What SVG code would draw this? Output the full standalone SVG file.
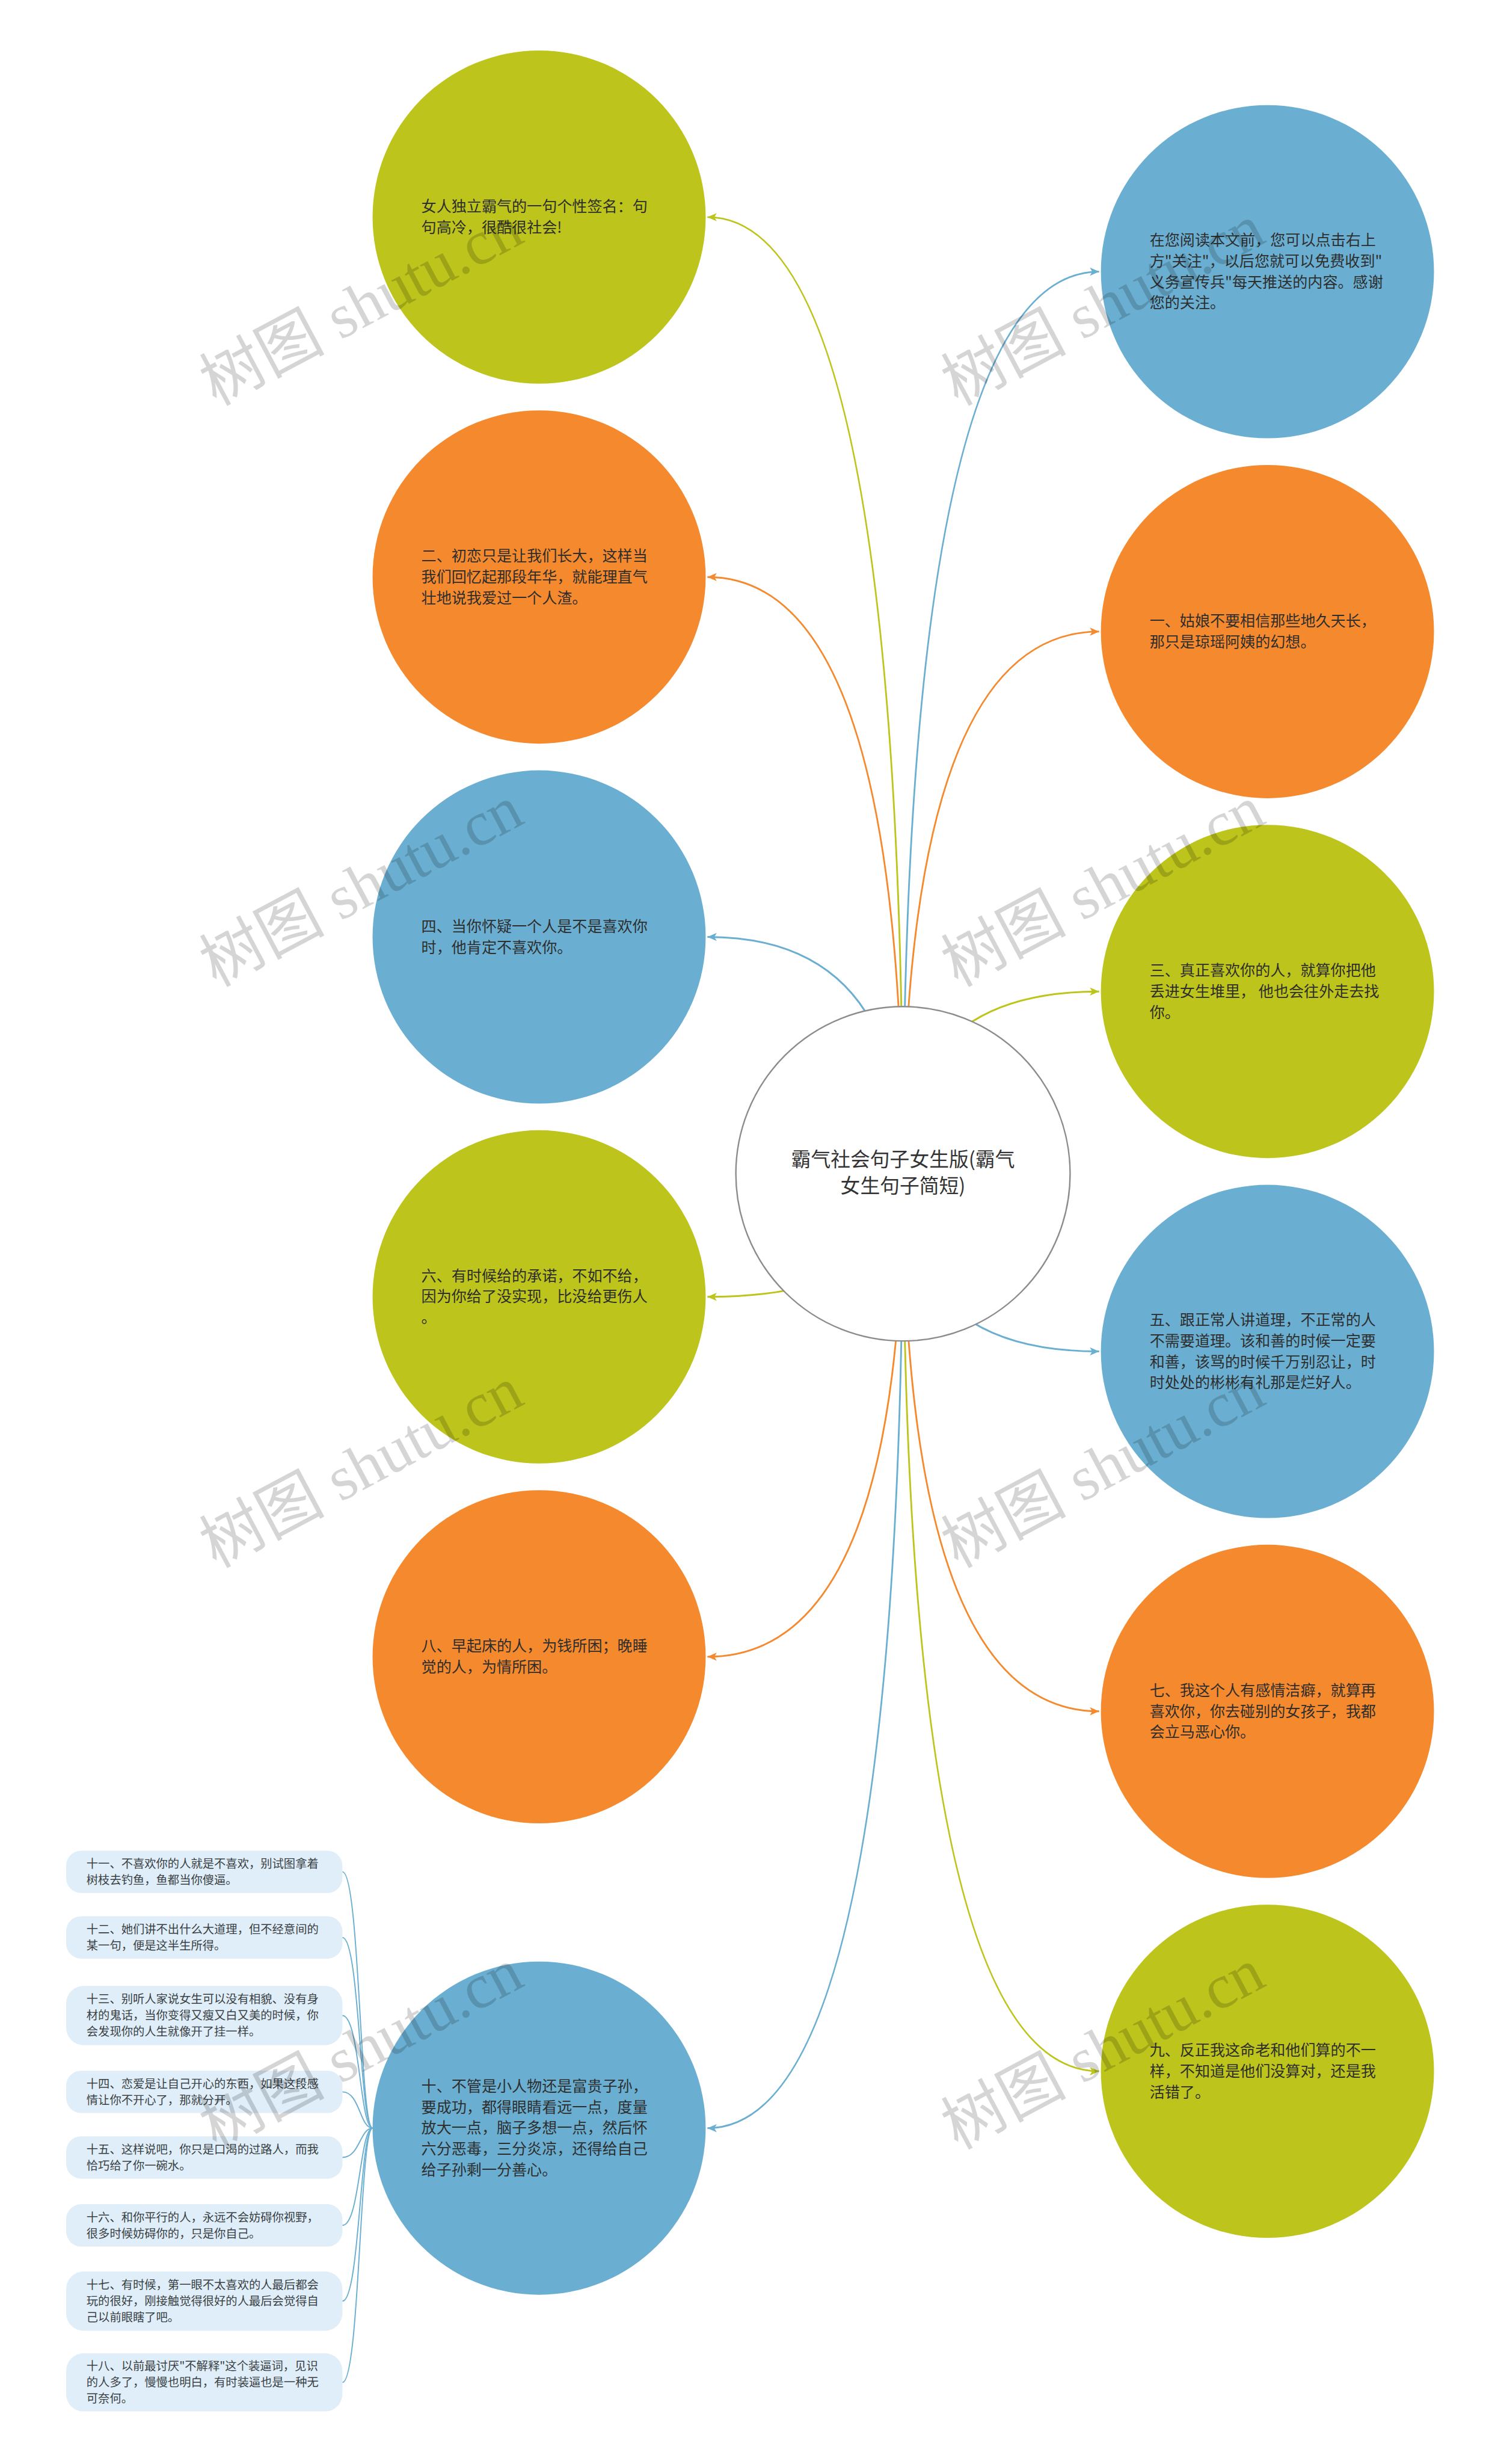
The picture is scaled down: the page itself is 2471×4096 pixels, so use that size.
<svg xmlns="http://www.w3.org/2000/svg" width="2471" height="4096" viewBox="0 0 2471 4096">
<style>
.bg{fill:#ffffff}
.g{fill:#bdc41b}
.o{fill:#f5892d}
.b{fill:#6aafd1}
.ct{font-family:"Noto Sans CJK SC","Liberation Sans",sans-serif;font-size:26px;fill:#2e2e2e}
.mt{font-family:"Noto Sans CJK SC","Liberation Sans",sans-serif;font-size:34px;fill:#333333;text-anchor:middle}
.bt{font-family:"Noto Sans CJK SC","Liberation Sans",sans-serif;font-size:20px;fill:#3a3f44}
.box{fill:#dfeef8}
.lg{fill:none;stroke:#bdc41b;stroke-width:3}
.lo{fill:none;stroke:#f5892d;stroke-width:3}
.lb{fill:none;stroke:#6aafd1;stroke-width:3}
.lsub{fill:none;stroke:#6aafd1;stroke-width:2}
.wm{font-family:"Liberation Serif","Noto Sans CJK SC",serif;font-size:108px;fill:#000000;opacity:0.16}
</style>
<defs>
<marker id="ag" markerUnits="userSpaceOnUse" markerWidth="20" markerHeight="16" refX="16" refY="7" orient="auto" overflow="visible"><path d="M0,0 L16,7 L0,14 L4,7 Z" fill="#bdc41b"/></marker>
<marker id="ao" markerUnits="userSpaceOnUse" markerWidth="20" markerHeight="16" refX="16" refY="7" orient="auto" overflow="visible"><path d="M0,0 L16,7 L0,14 L4,7 Z" fill="#f5892d"/></marker>
<marker id="ab" markerUnits="userSpaceOnUse" markerWidth="20" markerHeight="16" refX="16" refY="7" orient="auto" overflow="visible"><path d="M0,0 L16,7 L0,14 L4,7 Z" fill="#6aafd1"/></marker>
</defs>
<rect class="bg" x="0" y="0" width="2471" height="4096"/>
<g transform="scale(0.965)">
<g id="connectors">
<path class="lg" d="M1556,2022 Q1556,374 1219,374" marker-end="url(#ag)"/>
<path class="lo" d="M1556,2022 Q1556,994 1219,994" marker-end="url(#ao)"/>
<path class="lb" d="M1556,2022 Q1556,1614 1219,1614" marker-end="url(#ab)"/>
<path class="lg" d="M1556,2022 Q1556,2234 1219,2234" marker-end="url(#ag)"/>
<path class="lo" d="M1556,2022 Q1556,2854 1219,2854" marker-end="url(#ao)"/>
<path class="lb" d="M1556,2022 Q1556,3666 1219,3666" marker-end="url(#ab)"/>
<path class="lb" d="M1556,2022 Q1556,468 1894,468" marker-end="url(#ab)"/>
<path class="lo" d="M1556,2022 Q1556,1088 1894,1088" marker-end="url(#ao)"/>
<path class="lg" d="M1556,2022 Q1556,1708 1894,1708" marker-end="url(#ag)"/>
<path class="lb" d="M1556,2022 Q1556,2328 1894,2328" marker-end="url(#ab)"/>
<path class="lo" d="M1556,2022 Q1556,2948 1894,2948" marker-end="url(#ao)"/>
<path class="lg" d="M1556,2022 Q1556,3568 1894,3568" marker-end="url(#ag)"/>
<path class="lsub" d="M642,3666 C620,3666 620,3224.5 590,3224.5"/>
<path class="lsub" d="M642,3666 C620,3666 620,3337.5 590,3337.5"/>
<path class="lsub" d="M642,3666 C620,3666 620,3472 590,3472"/>
<path class="lsub" d="M642,3666 C620,3666 620,3603.5 590,3603.5"/>
<path class="lsub" d="M642,3666 C620,3666 620,3716.5 590,3716.5"/>
<path class="lsub" d="M642,3666 C620,3666 620,3833.5 590,3833.5"/>
<path class="lsub" d="M642,3666 C620,3666 620,3964 590,3964"/>
<path class="lsub" d="M642,3666 C620,3666 620,4104 590,4104"/>
</g>
<g id="center">
<circle cx="1556" cy="2022" r="288" fill="#ffffff" stroke="#8c8c8c" stroke-width="2.5"/>
<text class="mt" x="1556" y="2009">霸气社会句子女生版(霸气</text>
<text class="mt" x="1556" y="2055">女生句子简短)</text>
</g>
<g id="n-l1">
<circle class="g" cx="929" cy="374" r="287"/>
<text class="ct" x="726" y="365">女人独立霸气的一句个性签名：句</text>
<text class="ct" x="726" y="401">句高冷，很酷很社会!</text>
</g>
<g id="n-l2">
<circle class="o" cx="929" cy="994" r="287"/>
<text class="ct" x="726" y="967">二、初恋只是让我们长大，这样当</text>
<text class="ct" x="726" y="1003">我们回忆起那段年华，就能理直气</text>
<text class="ct" x="726" y="1039">壮地说我爱过一个人渣。</text>
</g>
<g id="n-l4">
<circle class="b" cx="929" cy="1614" r="287"/>
<text class="ct" x="726" y="1605">四、当你怀疑一个人是不是喜欢你</text>
<text class="ct" x="726" y="1641">时，他肯定不喜欢你。</text>
</g>
<g id="n-l6">
<circle class="g" cx="929" cy="2234" r="287"/>
<text class="ct" x="726" y="2207">六、有时候给的承诺，不如不给，</text>
<text class="ct" x="726" y="2243">因为你给了没实现，比没给更伤人</text>
<text class="ct" x="726" y="2279">。</text>
</g>
<g id="n-l8">
<circle class="o" cx="929" cy="2854" r="287"/>
<text class="ct" x="726" y="2845">八、早起床的人，为钱所困；晚睡</text>
<text class="ct" x="726" y="2881">觉的人，为情所困。</text>
</g>
<g id="n-l10">
<circle class="b" cx="929" cy="3666" r="287"/>
<text class="ct" x="726" y="3603">十、不管是小人物还是富贵子孙，</text>
<text class="ct" x="726" y="3639">要成功，都得眼睛看远一点，度量</text>
<text class="ct" x="726" y="3675">放大一点，脑子多想一点，然后怀</text>
<text class="ct" x="726" y="3711">六分恶毒，三分炎凉，还得给自己</text>
<text class="ct" x="726" y="3747">给子孙剩一分善心。</text>
</g>
<g id="n-r0">
<circle class="b" cx="2184" cy="468" r="287"/>
<text class="ct" x="1981" y="423">在您阅读本文前，您可以点击右上</text>
<text class="ct" x="1981" y="459">方"关注"，以后您就可以免费收到"</text>
<text class="ct" x="1981" y="495">义务宣传兵"每天推送的内容。感谢</text>
<text class="ct" x="1981" y="531">您的关注。</text>
</g>
<g id="n-r1">
<circle class="o" cx="2184" cy="1088" r="287"/>
<text class="ct" x="1981" y="1079">一、姑娘不要相信那些地久天长，</text>
<text class="ct" x="1981" y="1115">那只是琼瑶阿姨的幻想。</text>
</g>
<g id="n-r3">
<circle class="g" cx="2184" cy="1708" r="287"/>
<text class="ct" x="1981" y="1681">三、真正喜欢你的人，就算你把他</text>
<text class="ct" x="1981" y="1717">丢进女生堆里， 他也会往外走去找</text>
<text class="ct" x="1981" y="1753">你。</text>
</g>
<g id="n-r5">
<circle class="b" cx="2184" cy="2328" r="287"/>
<text class="ct" x="1981" y="2283">五、跟正常人讲道理，不正常的人</text>
<text class="ct" x="1981" y="2319">不需要道理。该和善的时候一定要</text>
<text class="ct" x="1981" y="2355">和善，该骂的时候千万别忍让，时</text>
<text class="ct" x="1981" y="2391">时处处的彬彬有礼那是烂好人。</text>
</g>
<g id="n-r7">
<circle class="o" cx="2184" cy="2948" r="287"/>
<text class="ct" x="1981" y="2921">七、我这个人有感情洁癖，就算再</text>
<text class="ct" x="1981" y="2957">喜欢你，你去碰别的女孩子，我都</text>
<text class="ct" x="1981" y="2993">会立马恶心你。</text>
</g>
<g id="n-r9">
<circle class="g" cx="2184" cy="3568" r="287"/>
<text class="ct" x="1981" y="3541">九、反正我这命老和他们算的不一</text>
<text class="ct" x="1981" y="3577">样，不知道是他们没算对，还是我</text>
<text class="ct" x="1981" y="3613">活错了。</text>
</g>
<g id="n-s11">
<rect class="box" x="114" y="3188" width="476" height="73" rx="26"/>
<text class="bt" x="149" y="3217.5">十一、不喜欢你的人就是不喜欢，别试图拿着</text>
<text class="bt" x="149" y="3245.5">树枝去钓鱼，鱼都当你傻逼。</text>
</g>
<g id="n-s12">
<rect class="box" x="114" y="3301" width="476" height="73" rx="26"/>
<text class="bt" x="149" y="3330.5">十二、她们讲不出什么大道理，但不经意间的</text>
<text class="bt" x="149" y="3358.5">某一句，便是这半生所得。</text>
</g>
<g id="n-s13">
<rect class="box" x="114" y="3421" width="476" height="102" rx="30"/>
<text class="bt" x="149" y="3451">十三、别听人家说女生可以没有相貌、没有身</text>
<text class="bt" x="149" y="3479">材的鬼话，当你变得又瘦又白又美的时候，你</text>
<text class="bt" x="149" y="3507">会发现你的人生就像开了挂一样。</text>
</g>
<g id="n-s14">
<rect class="box" x="114" y="3567" width="476" height="73" rx="26"/>
<text class="bt" x="149" y="3596.5">十四、恋爱是让自己开心的东西，如果这段感</text>
<text class="bt" x="149" y="3624.5">情让你不开心了，那就分开。</text>
</g>
<g id="n-s15">
<rect class="box" x="114" y="3680" width="476" height="73" rx="26"/>
<text class="bt" x="149" y="3709.5">十五、这样说吧，你只是口渴的过路人，而我</text>
<text class="bt" x="149" y="3737.5">恰巧给了你一碗水。</text>
</g>
<g id="n-s16">
<rect class="box" x="114" y="3797" width="476" height="73" rx="26"/>
<text class="bt" x="149" y="3826.5">十六、和你平行的人，永远不会妨碍你视野，</text>
<text class="bt" x="149" y="3854.5">很多时候妨碍你的，只是你自己。</text>
</g>
<g id="n-s17">
<rect class="box" x="114" y="3913" width="476" height="102" rx="30"/>
<text class="bt" x="149" y="3943">十七、有时候，第一眼不太喜欢的人最后都会</text>
<text class="bt" x="149" y="3971">玩的很好，刚接触觉得很好的人最后会觉得自</text>
<text class="bt" x="149" y="3999">己以前眼瞎了吧。</text>
</g>
<g id="n-s18">
<rect class="box" x="114" y="4054" width="476" height="100" rx="30"/>
<text class="bt" x="149" y="4083">十八、以前最讨厌"不解释"这个装逼词，见识</text>
<text class="bt" x="149" y="4111">的人多了，慢慢也明白，有时装逼也是一种无</text>
<text class="bt" x="149" y="4139">可奈何。</text>
</g>
<g id="watermarks">
<text class="wm" x="372" y="700" transform="rotate(-28 372 700)">树图 shutu.cn</text>
<text class="wm" x="1650" y="700" transform="rotate(-28 1650 700)">树图 shutu.cn</text>
<text class="wm" x="372" y="1701" transform="rotate(-28 372 1701)">树图 shutu.cn</text>
<text class="wm" x="1650" y="1701" transform="rotate(-28 1650 1701)">树图 shutu.cn</text>
<text class="wm" x="372" y="2702" transform="rotate(-28 372 2702)">树图 shutu.cn</text>
<text class="wm" x="1650" y="2702" transform="rotate(-28 1650 2702)">树图 shutu.cn</text>
<text class="wm" x="372" y="3704" transform="rotate(-28 372 3704)">树图 shutu.cn</text>
<text class="wm" x="1650" y="3704" transform="rotate(-28 1650 3704)">树图 shutu.cn</text>
</g>
</g>
</svg>
